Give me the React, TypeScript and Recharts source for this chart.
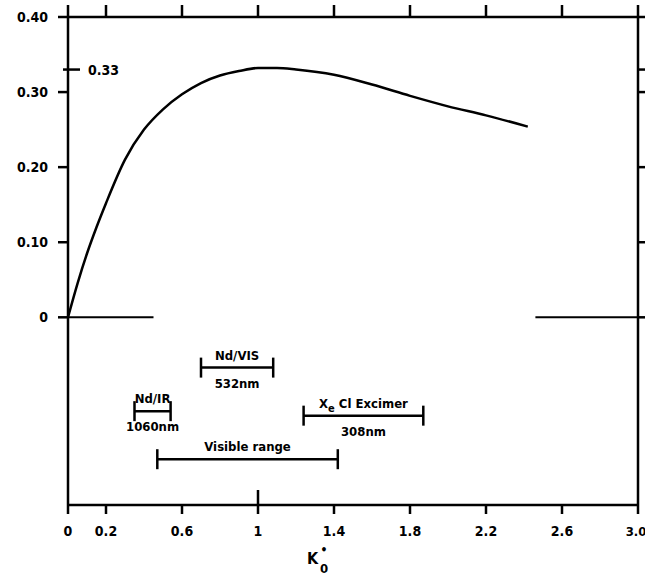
import React from "react";
import {
  ComposedChart,
  Line,
  Scatter,
  ErrorBar,
  XAxis,
  YAxis,
  ReferenceLine,
} from "recharts";

// curve
const curveK = [0, 0.05, 0.1, 0.15, 0.2, 0.3, 0.4, 0.5, 0.6, 0.7, 0.8, 0.9, 1.0, 1.1, 1.2, 1.4, 1.6, 1.8, 2.0, 2.2, 2.42];
const curveV = [0, 0.045, 0.085, 0.12, 0.152, 0.21, 0.25, 0.277, 0.297, 0.312, 0.322, 0.328, 0.332, 0.332, 0.33, 0.323, 0.31, 0.295, 0.281, 0.269, 0.254];

// wavelength ranges drawn as bars under the axis
const rangeLo = [0.35, 0.7, 1.24, 0.47];
const rangeHi = [0.54, 1.08, 1.87, 1.42];
const rangeLevel = [-0.125, -0.067, -0.131, -0.189];
const rangeTop = ["Nd/IR", "Nd/VIS", "X_e Cl Excimer", "Visible range"];
const rangeBottom = ["1060nm", "532nm", "308nm", ""];

// axis ticks
const xTicks = [0, 0.2, 0.6, 1, 1.4, 1.8, 2.2, 2.6, 3.0];
const yTicks = [0, 0.1, 0.2, 0.3, 0.33, 0.4];
const MARKED = 0.33; // labelled inside the frame

const X_MAX = 3;
const Y_MIN = -0.25;
const Y_MAX = 0.4;

// partial zero line
const zeroSegments = [
  [0, 0.45],
  [2.46, 3.0],
];

const FONT = "'DejaVu Sans Condensed', 'DejaVu Sans', sans-serif";
const INK = "#000";
const AX = { stroke: INK, strokeWidth: 2.5 };
const LW = 2.5;

const curveData = curveK.map((k, i) => ({ k, v: curveV[i] }));
const rangeData = rangeLo.map((lo, i) => ({
  k: (lo + rangeHi[i]) / 2,
  v: rangeLevel[i],
  err: (rangeHi[i] - lo) / 2,
  top: rangeTop[i],
  bottom: rangeBottom[i],
}));

const txt = { fill: INK, fontSize: 14, fontWeight: "bold", fontFamily: FONT };

function fmtY(v: number) {
  if (v === 0) return "0";
  return v.toFixed(2);
}

function BottomTick(props: any) {
  const { x, y, payload } = props;
  const v = payload.value;
  const last = v === 3;
  return (
    <g>
      <line x1={x} x2={x} y1={v === 1 ? y - 15 : y} y2={y + 9} stroke={INK} strokeWidth={LW} />
      <text x={last ? x - 2 : x} y={y + 31} textAnchor="middle" {...txt} fontSize={last ? 13 : 14}>
        {last ? "3.0" : String(v)}
      </text>
    </g>
  );
}

function LeftTick(props: any) {
  const { x, y, payload } = props;
  const v = payload.value;
  if (v === MARKED) {
    return (
      <g>
        <line x1={x - 5} x2={x + 12} y1={y} y2={y} stroke={INK} strokeWidth={LW} />
        <text x={x + 20} y={y + 5} textAnchor="start" {...txt}>
          {fmtY(v)}
        </text>
      </g>
    );
  }
  return (
    <g>
      <line x1={x - 10} x2={x} y1={y} y2={y} stroke={INK} strokeWidth={LW} />
      <text x={x - 20} y={y + 5} textAnchor="end" {...txt}>
        {fmtY(v)}
      </text>
    </g>
  );
}

function withSub(s: string) {
  // "X_e" -> X with subscript e
  const i = s.indexOf("_");
  if (i < 0) return s;
  return [
    <tspan key="a">{s.slice(0, i)}</tspan>,
    <tspan key="b" dy={4} fontSize={11}>
      {s.charAt(i + 1)}
    </tspan>,
    <tspan key="c" dy={-4}>
      {s.slice(i + 2)}
    </tspan>,
  ];
}

function RangeLabel(props: any) {
  const { cx, cy, payload } = props;
  const t = { ...txt, fontSize: 13, textAnchor: "middle" as const };
  return (
    <g>
      <text x={cx} y={cy - 8} {...t}>
        {withSub(payload.top)}
      </text>
      {payload.bottom && (
        <text x={cx} y={cy + 20} {...t}>
          {payload.bottom}
        </text>
      )}
    </g>
  );
}

function AxisTitle(props: any) {
  const vb = props.viewBox || { x: 68, y: 505 };
  const x = vb.x + 239;
  const y = vb.y + 59;
  return (
    <g>
      <text x={x} y={y} {...txt} fontSize={16}>
        K
      </text>
      <text x={x + 13} y={y + 9} {...txt} fontSize={13}>
        0
      </text>
      <text x={x + 17} y={y - 10} textAnchor="middle" {...txt} fontSize={12}>
        •
      </text>
    </g>
  );
}

export default function App() {
  return (
    <div style={{ position: "absolute", left: 0, top: 0, background: "#fff" }}>
      <ComposedChart
        width={645}
        height={575}
        margin={{ top: 17, right: 7, bottom: 69, left: 67 }}
      >
        <XAxis
          xAxisId="b"
          dataKey="k"
          type="number"
          domain={[0, X_MAX]}
          ticks={xTicks}
          interval={0}
          height={1}
          tickSize={0}
          tickMargin={0}
          axisLine={AX}
          tickLine={false}
          tick={<BottomTick />}
          label={<AxisTitle />}
        />
        <YAxis
          yAxisId="l"
          dataKey="v"
          type="number"
          domain={[Y_MIN, Y_MAX]}
          ticks={yTicks}
          interval={0}
          width={1}
          tickSize={0}
          tickMargin={0}
          axisLine={AX}
          tickLine={false}
          tick={<LeftTick />}
        />
        {/* top and right edges of the frame, with their outward ticks */}
        <ReferenceLine xAxisId="b" yAxisId="l" y={Y_MAX} stroke={INK} strokeWidth={LW} ifOverflow="visible" />
        <ReferenceLine xAxisId="b" yAxisId="l" x={X_MAX} stroke={INK} strokeWidth={LW} ifOverflow="visible" />
        {xTicks.map((t) => (
          <ReferenceLine
            key={"tt" + t}
            xAxisId="b"
            yAxisId="l"
            segment={[
              { x: t, y: Y_MAX },
              { x: t, y: Y_MAX + 0.016 },
            ]}
            stroke={INK}
            strokeWidth={LW}
            ifOverflow="visible"
          />
        ))}
        {yTicks.map((t) => (
          <ReferenceLine
            key={"rt" + t}
            xAxisId="b"
            yAxisId="l"
            segment={[
              { x: X_MAX, y: t },
              { x: X_MAX + 0.037, y: t },
            ]}
            stroke={INK}
            strokeWidth={LW}
            ifOverflow="visible"
          />
        ))}
        {zeroSegments.map(([a, b], i) => (
          <ReferenceLine
            key={i}
            xAxisId="b"
            yAxisId="l"
            segment={[
              { x: a, y: 0 },
              { x: b, y: 0 },
            ]}
            stroke={INK}
            strokeWidth={2}
            ifOverflow="visible"
          />
        ))}
        <Line
          xAxisId="b"
          yAxisId="l"
          data={curveData}
          dataKey="v"
          type="monotone"
          stroke={INK}
          strokeWidth={2.5}
          dot={false}
          isAnimationActive={false}
        />
        <Scatter
          xAxisId="b"
          yAxisId="l"
          data={rangeData}
          shape={<RangeLabel />}
          isAnimationActive={false}
        >
          <ErrorBar
            dataKey="err"
            direction="x"
            width={10}
            stroke={INK}
            strokeWidth={2.5}
            isAnimationActive={false}
          />
        </Scatter>
      </ComposedChart>
    </div>
  );
}
